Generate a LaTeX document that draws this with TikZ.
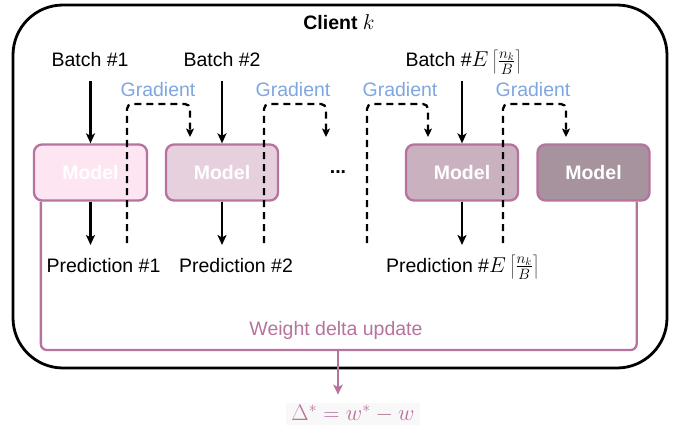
\RequirePackage{fix-cm}
\documentclass[tikz,border=0pt]{standalone}
\usepackage{fontspec}
\setmainfont{Liberation Sans}
\usetikzlibrary{arrows.meta}
\definecolor{mauve}{HTML}{B5739D}
\definecolor{gradblue}{HTML}{7EA6E0}
\definecolor{fillA}{HTML}{FDE6F2}
\definecolor{fillB}{HTML}{E6D0DE}
\definecolor{fillC}{HTML}{C9B1C0}
\definecolor{fillD}{HTML}{A6939D}
\definecolor{eqbg}{HTML}{F8F8F8}
\newcommand{\mathsz}{\fontsize{21.5}{24}\selectfont}
\newcommand{\nsteps}{{\mathsz$E\left\lceil\frac{n_k}{B}\right\rceil$}}
\begin{document}
\begin{tikzpicture}[x=1pt,y=-1pt,
  font=\fontsize{19.5}{23}\selectfont,
  model/.style={draw=mauve, line width=2.3pt, rounded corners=8pt,
    minimum width=112pt, minimum height=56pt, inner sep=0pt,
    text=white, font=\fontsize{19.5}{23}\selectfont\bfseries},
  lbl/.style={anchor=base, inner sep=0pt},
  glbl/.style={text=gradblue, inner sep=0pt},
  arr/.style={line width=2.3pt, -{Stealth[length=10pt,width=9pt,inset=2.5pt]}},
  grad/.style={line width=2.3pt, dash pattern=on 7pt off 5pt, rounded corners=5pt,
    -{Stealth[length=8.5pt,width=8pt,inset=2pt]}},
  wline/.style={draw=mauve, line width=2.3pt, rounded corners=6pt},
  warr/.style={draw=mauve, line width=2.3pt,
    -{Stealth[length=10pt,width=9.5pt,inset=2.5pt]}, color=mauve},
]
\useasboundingbox (0,0) rectangle (681,428);

% client frame
\draw[line width=2.8pt, rounded corners=50pt] (13,5) rectangle (667,368);
\node[font=\fontsize{19.5}{23}\selectfont\bfseries, inner sep=0pt] (title) at (339,22) {Client {\mathsz$k$}};

% local model copies
\node[model, fill=fillA, minimum width=113pt] (m1) at (90.5,172.5) {Model};
\node[model, fill=fillB] (m2) at (222,172.5) {Model};
\node[model, fill=fillC] (m3) at (462,172.5) {Model};
\node[model, fill=fillD] (m4) at (593.5,172.5) {Model};
\node[font=\fontsize{19.5}{23}\selectfont\bfseries, inner sep=0pt] (dots) at (338,172) {...};

% batches
\node[lbl] (b1) at (90,67) {Batch \#1};
\node[lbl] (b2) at (222,67) {Batch \#2};
\node[lbl] (b3) at (463.5,67) {Batch \#\nsteps};
\draw[arr] ([yshift=-14pt]b1.base -| m1.north) -- (m1.north);
\draw[arr] ([yshift=-14pt]b2.base -| m2.north) -- (m2.north);
\draw[arr] ([yshift=-14pt]b3.base -| m3.north) -- (m3.north);

% predictions
\node[lbl] (p1) at (103.5,272) {Prediction \#1};
\node[lbl] (p2) at (236,272) {Prediction \#2};
\node[lbl] (p3) at (462.5,272) {Prediction \#\nsteps};
\coordinate (pt1) at ([yshift=27pt]p1.base);
\coordinate (pt2) at ([yshift=27pt]p2.base);
\coordinate (pt3) at ([yshift=27pt]p3.base);
\draw[arr] (m1.south) -- (m1.south |- pt1);
\draw[arr] (m2.south) -- (m2.south |- pt2);
\draw[arr] (m3.south) -- (m3.south |- pt3);

% gradient hand-over between steps
\node[glbl] (g1) at (158,90) {Gradient};
\node[glbl] (g2) at (293,90) {Gradient};
\node[glbl] (g3) at (400,90) {Gradient};
\node[glbl] (g4) at (533,90) {Gradient};
\coordinate (gs1) at (127,243);
\coordinate (gs2) at (264,243);
\coordinate (gs3) at (367,243);
\coordinate (gs4) at (503,243);
\coordinate (ge1) at (190,137);
\coordinate (ge2) at (326,137);
\coordinate (ge3) at (428,137);
\coordinate (ge4) at (566,137);
\draw[grad] (gs1) -- ++(0,-139) -| (ge1);
\draw[grad] (gs2) -- ++(0,-139) -| (ge2);
\draw[grad] (gs3) -- ++(0,-139) -| (ge3);
\draw[grad] (gs4) -- ++(0,-139) -| (ge4);

% weight delta update
\coordinate (wl) at ([xshift=8pt]m1.south west);
\coordinate (wr) at ([xshift=-14pt]m4.south east);
\draw[wline] (wl) |- (340,350) -| (wr);
\node[text=mauve, inner sep=0pt] (wlabel) at (336,330) {Weight delta update};
\coordinate (wd) at (338,350);
\node[fill=eqbg, text=mauve, inner xsep=5pt, inner ysep=2.5pt,
  font=\fontsize{22.5}{25}\selectfont] (delta) at (353,414) {$\Delta^* = w^* - w$};
\draw[warr] (wd) -- ([yshift=8pt]delta.north -| wd);
\end{tikzpicture}
\end{document}
